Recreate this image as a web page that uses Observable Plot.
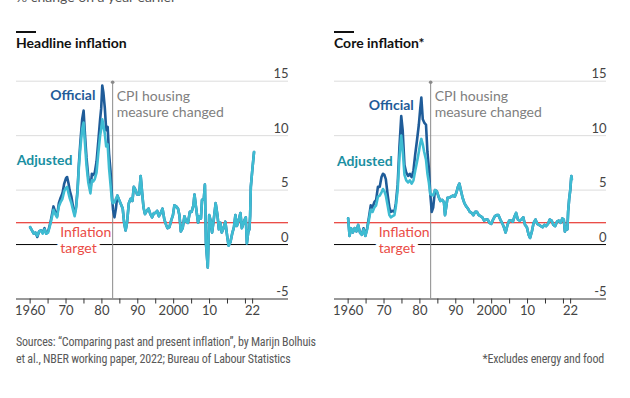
<!DOCTYPE html>
<html><head><meta charset="utf-8">
<script src="https://cdn.jsdelivr.net/npm/d3@7"></script>
<script src="https://cdn.jsdelivr.net/npm/@observablehq/plot@0.6"></script>
<style>
body{margin:0;background:#fff;width:630px;height:398px;overflow:hidden;position:relative;font-family:Lato,"Noto Sans",sans-serif}
.sub{position:absolute;left:16px;top:-12px;font-size:14px;line-height:17px;color:#555;white-space:nowrap}
.bar{position:absolute;top:31px;width:20px;height:1.5px;background:#111}
.title{position:absolute;top:34px;font-size:14px;line-height:17px;font-weight:700;color:#111;white-space:nowrap}
.panel{position:absolute;top:56px;width:318px;height:264px}
.panel svg{max-width:none !important;width:318px;height:264px}
.src{position:absolute;left:16px;top:334px;font-size:12px;line-height:17px;color:#595959;letter-spacing:-0.2px;font-family:"Liberation Sans Narrow","Roboto Condensed",Roboto,sans-serif;white-space:nowrap}
.note{position:absolute;right:26px;top:351px;font-size:12px;line-height:17px;color:#595959;letter-spacing:-0.2px;font-family:"Liberation Sans Narrow","Roboto Condensed",Roboto,sans-serif;white-space:nowrap}
</style></head>
<body>
<div class="sub">% change on a year earlier</div>
<div class="bar" style="left:16px"></div>
<div class="bar" style="left:334px"></div>
<div class="title" style="left:16px">Headline inflation</div>
<div class="title" style="left:334px">Core inflation*</div>
<div class="panel" id="left" style="left:0"></div>
<div class="panel" id="right" style="left:318px"></div>
<div class="src">Sources: “Comparing past and present inflation”, by Marijn Bolhuis<br>et al., NBER working paper, 2022; Bureau of Labour Statistics</div>
<div class="note">*Excludes energy and food</div>
<script>
// ---- Headline inflation, before the 1983 CPI housing change ----
const headPreYears = [1960.0,1960.5,1961.0,1961.5,1962.0,1962.5,1963.0,1963.5,1964.0,1964.5,1965.0,1965.5,1966.0,1966.5,1967.0,1967.5,1968.0,1968.5,1969.0,1969.5,1970.0,1970.3,1970.7,1971.0,1971.5,1972.0,1972.4,1972.8,1973.2,1973.6,1974.0,1974.5,1974.9,1975.3,1975.7,1976.2,1976.8,1977.2,1977.6,1978.0,1978.5,1979.0,1979.5,1979.8,1980.1,1980.4,1980.8,1981.2,1981.6,1982.0,1982.4,1982.8,1983.1,1983.5,1983.9];
const headPreOfficial = [1.6,1.3,1.0,1.1,0.7,1.2,1.3,1.1,1.5,1.0,1.2,1.8,2.6,3.5,3.0,2.6,3.8,4.3,4.7,5.6,6.1,6.2,5.6,5.0,4.4,3.4,2.8,3.5,5.0,7.5,9.4,11.5,12.3,10.0,8.0,6.2,5.0,6.5,6.4,6.6,7.6,9.5,11.5,12.5,14.6,14.0,12.6,10.5,10.8,8.3,6.8,4.5,3.2,2.5,3.3];
const headPreAdjusted = [1.6,1.3,1.0,1.1,0.8,1.2,1.3,1.0,1.4,1.0,1.1,1.7,2.4,3.2,2.8,2.5,3.5,3.9,4.2,4.9,5.2,5.3,4.7,4.3,3.8,3.1,2.6,3.3,4.8,7.2,8.9,10.6,11.2,9.2,7.3,5.7,4.7,5.9,5.8,6.0,6.6,8.4,10.0,10.6,11.5,11.0,10.2,9.0,9.2,7.0,5.5,4.0,3.8,3.9,4.2];
// ---- Headline inflation, after the change (series coincide) ----
const headPostYears = [1984.3,1984.8,1985.3,1985.8,1986.2,1986.6,1987.0,1987.5,1988.0,1988.5,1988.9,1989.4,1989.8,1990.4,1990.8,1991.2,1991.6,1992.0,1992.5,1993.0,1993.5,1994.0,1994.5,1995.0,1995.4,1995.9,1996.4,1996.9,1997.4,1997.9,1998.3,1998.8,1999.3,1999.8,2000.2,2000.7,2001.2,2001.6,2002.0,2002.5,2003.0,2003.5,2004.0,2004.5,2005.0,2005.5,2005.8,2006.2,2006.8,2007.2,2007.6,2007.9,2008.4,2008.7,2009.0,2009.5,2009.9,2010.3,2010.7,2011.1,2011.7,2012.2,2012.6,2013.0,2013.4,2013.9,2014.4,2014.9,2015.3,2015.8,2016.3,2016.8,2017.2,2017.6,2018.1,2018.6,2019.0,2019.4,2019.8,2020.1,2020.4,2020.8,2021.1,2021.3,2021.5,2021.9,2022.4];
const headPost = [4.5,4.1,3.7,3.3,2.0,1.3,2.0,3.8,4.2,4.0,5.3,5.0,4.6,4.6,6.3,4.8,3.4,2.8,3.1,3.3,2.8,2.5,2.9,2.9,3.1,2.6,2.9,3.3,2.3,1.8,1.5,1.6,2.2,2.7,3.6,3.5,3.3,2.7,1.2,1.5,2.6,2.1,2.0,3.0,3.0,3.6,4.6,3.5,2.0,2.6,2.4,4.1,4.2,5.5,0.1,-2.1,2.7,2.2,1.1,2.1,3.8,2.7,1.4,2.0,1.1,1.5,2.1,0.8,-0.1,0.2,1.0,1.6,2.7,1.7,2.2,2.9,1.5,1.9,2.3,2.5,0.1,1.2,1.4,2.6,5.3,6.8,8.5];
// ---- Core inflation, before the change ----
const corePreYears = [1960.0,1960.4,1960.8,1961.3,1961.8,1962.3,1962.8,1963.3,1963.8,1964.3,1964.8,1965.3,1965.8,1966.3,1966.8,1967.3,1967.8,1968.3,1968.8,1969.3,1969.7,1970.1,1970.5,1971.0,1971.5,1971.9,1972.4,1972.9,1973.3,1973.8,1974.3,1974.8,1975.2,1975.7,1976.2,1976.7,1977.2,1977.7,1978.2,1978.7,1979.2,1979.7,1980.1,1980.4,1980.8,1981.2,1981.7,1982.1,1982.5,1982.9,1983.3,1983.7];
const corePreOfficial = [2.4,0.8,1.5,1.1,1.5,1.2,1.8,1.1,0.9,1.5,0.8,1.5,2.5,3.6,3.4,3.9,4.1,5.3,5.3,6.2,6.5,6.4,6.0,4.6,3.4,3.0,3.1,3.0,3.8,5.5,9.0,11.8,10.5,7.3,6.6,6.3,6.5,6.2,6.8,8.3,9.6,11.0,12.5,13.5,11.5,11.2,11.0,8.5,7.0,4.6,3.0,3.4];
const corePreAdjusted = [2.4,0.8,1.5,1.1,1.5,1.2,1.8,1.1,0.9,1.4,0.8,1.4,2.3,3.2,3.0,3.4,3.6,4.4,4.5,4.8,5.1,4.9,4.5,3.6,2.7,2.5,2.6,2.7,3.5,5.0,8.0,10.0,8.7,6.4,5.9,5.7,5.9,5.6,5.9,6.8,7.6,8.5,9.3,9.7,9.2,8.5,7.8,6.5,5.7,4.6,4.6,4.5];
// ---- Core inflation, after the change ----
const corePostYears = [1984.2,1984.7,1985.2,1985.7,1986.2,1986.7,1987.0,1987.3,1987.7,1988.2,1988.7,1989.2,1989.7,1990.2,1990.6,1991.0,1991.4,1991.9,1992.4,1992.9,1993.4,1993.9,1994.4,1994.9,1995.4,1995.9,1996.4,1996.9,1997.4,1997.9,1998.4,1998.9,1999.4,1999.9,2000.4,2000.9,2001.4,2001.9,2002.4,2002.9,2003.4,2003.9,2004.4,2004.9,2005.4,2005.9,2006.4,2006.8,2007.3,2007.8,2008.3,2008.8,2009.3,2009.8,2010.3,2010.7,2011.2,2011.7,2012.2,2012.7,2013.2,2013.7,2014.2,2014.7,2015.2,2015.7,2016.2,2016.7,2017.2,2017.7,2018.2,2018.7,2019.2,2019.7,2020.1,2020.4,2020.8,2021.1,2021.3,2021.6,2021.9,2022.2,2022.35];
const corePost = [5.0,4.9,4.4,4.0,4.1,3.9,2.7,3.4,4.3,4.3,4.4,4.5,4.4,4.8,5.3,5.6,5.0,4.3,3.8,3.5,3.3,3.0,2.9,2.7,3.0,3.0,2.7,2.6,2.5,2.2,2.3,2.3,2.0,1.9,2.3,2.6,2.7,2.7,2.3,2.0,1.6,1.1,1.8,2.2,2.2,2.1,2.6,2.9,2.3,2.2,2.3,2.5,1.8,1.6,0.9,0.6,1.2,2.0,2.3,1.9,1.8,1.7,1.6,1.8,1.7,1.9,2.3,2.2,1.8,1.7,2.1,2.2,2.0,2.4,2.3,1.2,1.6,1.4,3.0,4.2,5.0,6.3,6.0];

// ---- axes & annotations ----
const xTicks = [1960,1965,1970,1975,1980,1985,1990,1995,2000,2005,2010,2015,2020,2022];
const xTickLabels = {1960:"1960",1970:"70",1980:"80",1990:"90",2000:"2000",2010:"10",2022:"22"};
const yTicks = [-5,0,5,10,15];
const gridValues = [5,10,15];
const targetValue = 2;
const housingChangeYear = 1983;
const seriesNames = ["Official","Adjusted"];

const DARK = "#1f5c99", LIGHT = "#3ebcd2", RED = "#e3120b";
const FONT = "Lato, 'Noto Sans', sans-serif";

function panel(preYears, preOff, preAdj, postYears, post, lab) {
  const offX = preYears.concat(postYears), offY = preOff.concat(post);
  const adjX = preYears.concat(postYears), adjY = preAdj.concat(post);
  const xmin = 1956.2, xmax = 2032;
  return Plot.plot({
    width: 318, height: 264,
    marginLeft: 16, marginRight: 30, marginTop: 24.7, marginBottom: 21.5,
    x: {domain: [xmin, xmax]},
    y: {domain: [-5, 15], axis: null},
    style: {fontFamily: FONT, fontSize: "13px", color: "#333", background: "transparent", overflow: "visible"},
    marks: [
      Plot.ruleY(gridValues, {stroke: "#dcdcdc", strokeWidth: 1}),
      Plot.ruleY([0], {stroke: "#000", strokeWidth: 1}),
      Plot.text(["Inflation\ntarget"], {x: [lab.targetX], y: [1.75], text: d => d, textAnchor: "start", lineAnchor: "top", fill: "#ea4c46", fontSize: 14, lineHeight: 1.15, stroke: "white", strokeWidth: 7}),
      Plot.ruleY([targetValue], {stroke: RED, strokeWidth: 1.2}),
      Plot.ruleY([-5], {stroke: "#333", strokeWidth: 1}),
      Plot.axisX({ticks: xTicks, tickFormat: d => xTickLabels[d] ?? "", tickSize: 5, tickPadding: 2, stroke: "#333", fill: "#444", fontSize: 13}),
      Plot.text(yTicks, {x: xmax, y: d => d, text: d => String(d), textAnchor: "end", lineAnchor: "bottom", dy: -3, fill: "#444", fontSize: 13}),
      Plot.ruleX([housingChangeYear], {y1: -5, y2: 14.9, stroke: "#8a8a8a", strokeWidth: 1}),
      Plot.dot([housingChangeYear], {x: d => d, y: [14.9], r: 1.8, fill: "#8a8a8a"}),
      Plot.text(["CPI housing\nmeasure changed"], {x: [housingChangeYear], y: [14.2], text: d => d, dx: 4, textAnchor: "start", lineAnchor: "top", fill: "#808080", fontSize: 14, lineHeight: 1.15}),
      Plot.line(offY, {x: offX, y: offY, stroke: DARK, strokeWidth: 2.6, strokeLinejoin: "round", curve: "linear"}),
      Plot.line(adjY, {x: adjX, y: adjY, stroke: LIGHT, strokeWidth: 2.6, strokeLinejoin: "round", curve: "linear"}),
      Plot.text([seriesNames[0]], {x: [lab.offX], y: [lab.offY], text: d => d, textAnchor: "end", fill: DARK, fontSize: 14, fontWeight: 700}),
      Plot.text([seriesNames[1]], {x: [lab.adjX], y: [lab.adjY], text: d => d, textAnchor: "end", fill: "#1a8fa2", fontSize: 14, fontWeight: 700})
    ]
  });
}

document.getElementById("left").append(panel(headPreYears, headPreOfficial, headPreAdjusted, headPostYears, headPost,
  {offX: 1978.2, offY: 13.7, adjX: 1971.8, adjY: 7.7, targetX: 1968.4}));
document.getElementById("right").append(panel(corePreYears, corePreOfficial, corePreAdjusted, corePostYears, corePost,
  {offX: 1978.3, offY: 12.8, adjX: 1972.4, adjY: 7.66, targetX: 1968.5}));
</script>
</body></html>
